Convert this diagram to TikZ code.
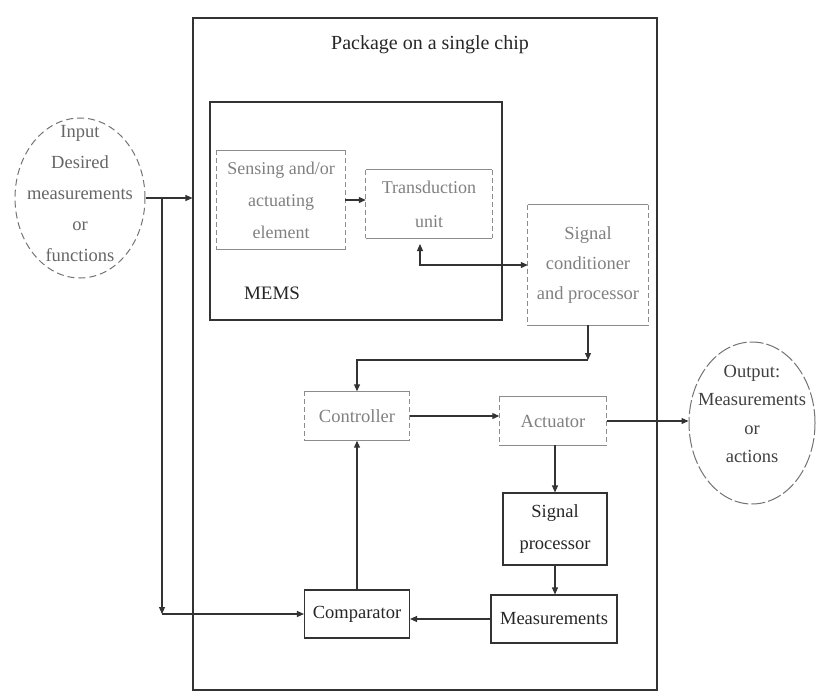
\documentclass[tikz,border=0pt]{standalone}
\usepackage{fontspec}
\setmainfont{Liberation Serif}
\usetikzlibrary{arrows.meta,shapes.geometric}

% boxes drawn with faint dashed sides and solid top and bottom
\newcommand\faintedges[1]{%
  \draw[faintline] (#1.north west) -- (#1.north east);
  \draw[faintline] (#1.south west) -- (#1.south east);
  \draw[faintline,dash pattern=on 5pt off 3pt] (#1.north west) -- (#1.south west);
  \draw[faintline,dash pattern=on 5pt off 3pt] (#1.north east) -- (#1.south east);}

\begin{document}
\begin{tikzpicture}[x=1pt,y=-1pt,
  ink/.style={draw=black!80, line width=1.1pt},
  faintline/.style={draw=black!45, line width=1.1pt},
  arr/.style={ink, -{Triangle[length=7pt,width=6pt]}},
  biarr/.style={ink, {Triangle[length=7pt,width=6pt]}-{Triangle[length=7pt,width=6pt]}},
  txt/.style={font=\fontsize{18.5}{30}\selectfont, align=center, inner sep=0pt, text=black!85},
  solidbox/.style={txt, ink, rectangle},
  faintbox/.style={txt, rectangle, text=black!50},
  oval/.style={txt, ellipse, inner sep=0pt, draw=black!55, line width=1pt}]

\useasboundingbox (0,0) rectangle (818,698);

% outer package and MEMS enclosure
\node[ink, rectangle, minimum width=464pt, minimum height=672pt] (pkg) at (425,354) {};
\node[txt, font=\fontsize{20}{30}\selectfont] (title) at (430,45) {Package on a single chip};
\node[ink, rectangle, minimum width=292pt, minimum height=218pt] (mems) at (356,211) {};
\node[txt, font=\fontsize{19}{30}\selectfont] (memslbl) at (272,293) {MEMS};

% blocks
\node[faintbox, minimum width=128pt, minimum height=99pt, font=\fontsize{18}{32}\selectfont] (sense) at (281,200) {Sensing and/or\\actuating\\element};
\node[faintbox, minimum width=126pt, minimum height=68pt, font=\fontsize{18}{34}\selectfont] (trans) at (429,204) {Transduction\\unit};
\node[faintbox, minimum width=120pt, minimum height=120pt] (cond) at (588,265) {Signal\\conditioner\\and processor};
\node[faintbox, minimum width=105pt, minimum height=49pt] (ctrl) at (357,416) {Controller};
\node[faintbox, minimum width=107pt, minimum height=48pt] (act) at (553,421) {Actuator};
\node[solidbox, minimum width=104pt, minimum height=72pt, font=\fontsize{18.5}{32}\selectfont] (sp) at (555,529) {Signal\\processor};
\node[solidbox, minimum width=126pt, minimum height=48pt] (meas) at (554,619) {Measurements};
\node[solidbox, minimum width=105pt, minimum height=48pt] (comp) at (357,614) {Comparator};

\faintedges{sense}
\faintedges{trans}
\faintedges{cond}
\faintedges{ctrl}
\faintedges{act}

% input and output
\node[oval, dash pattern=on 7pt off 4pt, minimum width=130pt, minimum height=160pt] (input) at (80,198) {};
\node[txt, text=black!60, font=\fontsize{18.5}{31}\selectfont] (inputlbl) at (80,194) {Input\\Desired\\measurements\\or\\functions};
\node[oval, dash pattern=on 14pt off 3pt, minimum width=126pt, minimum height=162pt] (output) at (752,423) {};
\node[txt, text=black!75, font=\fontsize{18.5}{28.5}\selectfont] (outputlbl) at (752,414) {Output:\\Measurements\\or\\actions};

% connection points
\coordinate (jn) at (162,198);
\coordinate (jd) at (162,614);
\coordinate (tb) at (420,244);
\coordinate (cc) at (588,360);

% connectors
\draw[arr] (input.east) -- (input.east -| pkg.west);
\draw[arr] (jn) -- (jd);
\draw[arr] (jd) -- (comp.west);
\draw[arr] (sense.east) -- (sense.east -| trans.west);
\draw[biarr] (tb) |- (cond.west);
\draw[arr] (cond.south) -- (cc);
\draw[arr] (cc) -| (ctrl.north);
\draw[arr] (ctrl.east) -- (ctrl.east -| act.west);
\draw[arr] (act.east) -- (act.east -| output.west);
\draw[arr] (act.south -| sp.north) -- (sp.north);
\draw[arr] (sp.south) -- (sp.south |- meas.north);
\draw[arr] (meas.west) -- (meas.west -| comp.east);
\draw[arr] (comp.north) -- (ctrl.south);

\end{tikzpicture}
\end{document}
